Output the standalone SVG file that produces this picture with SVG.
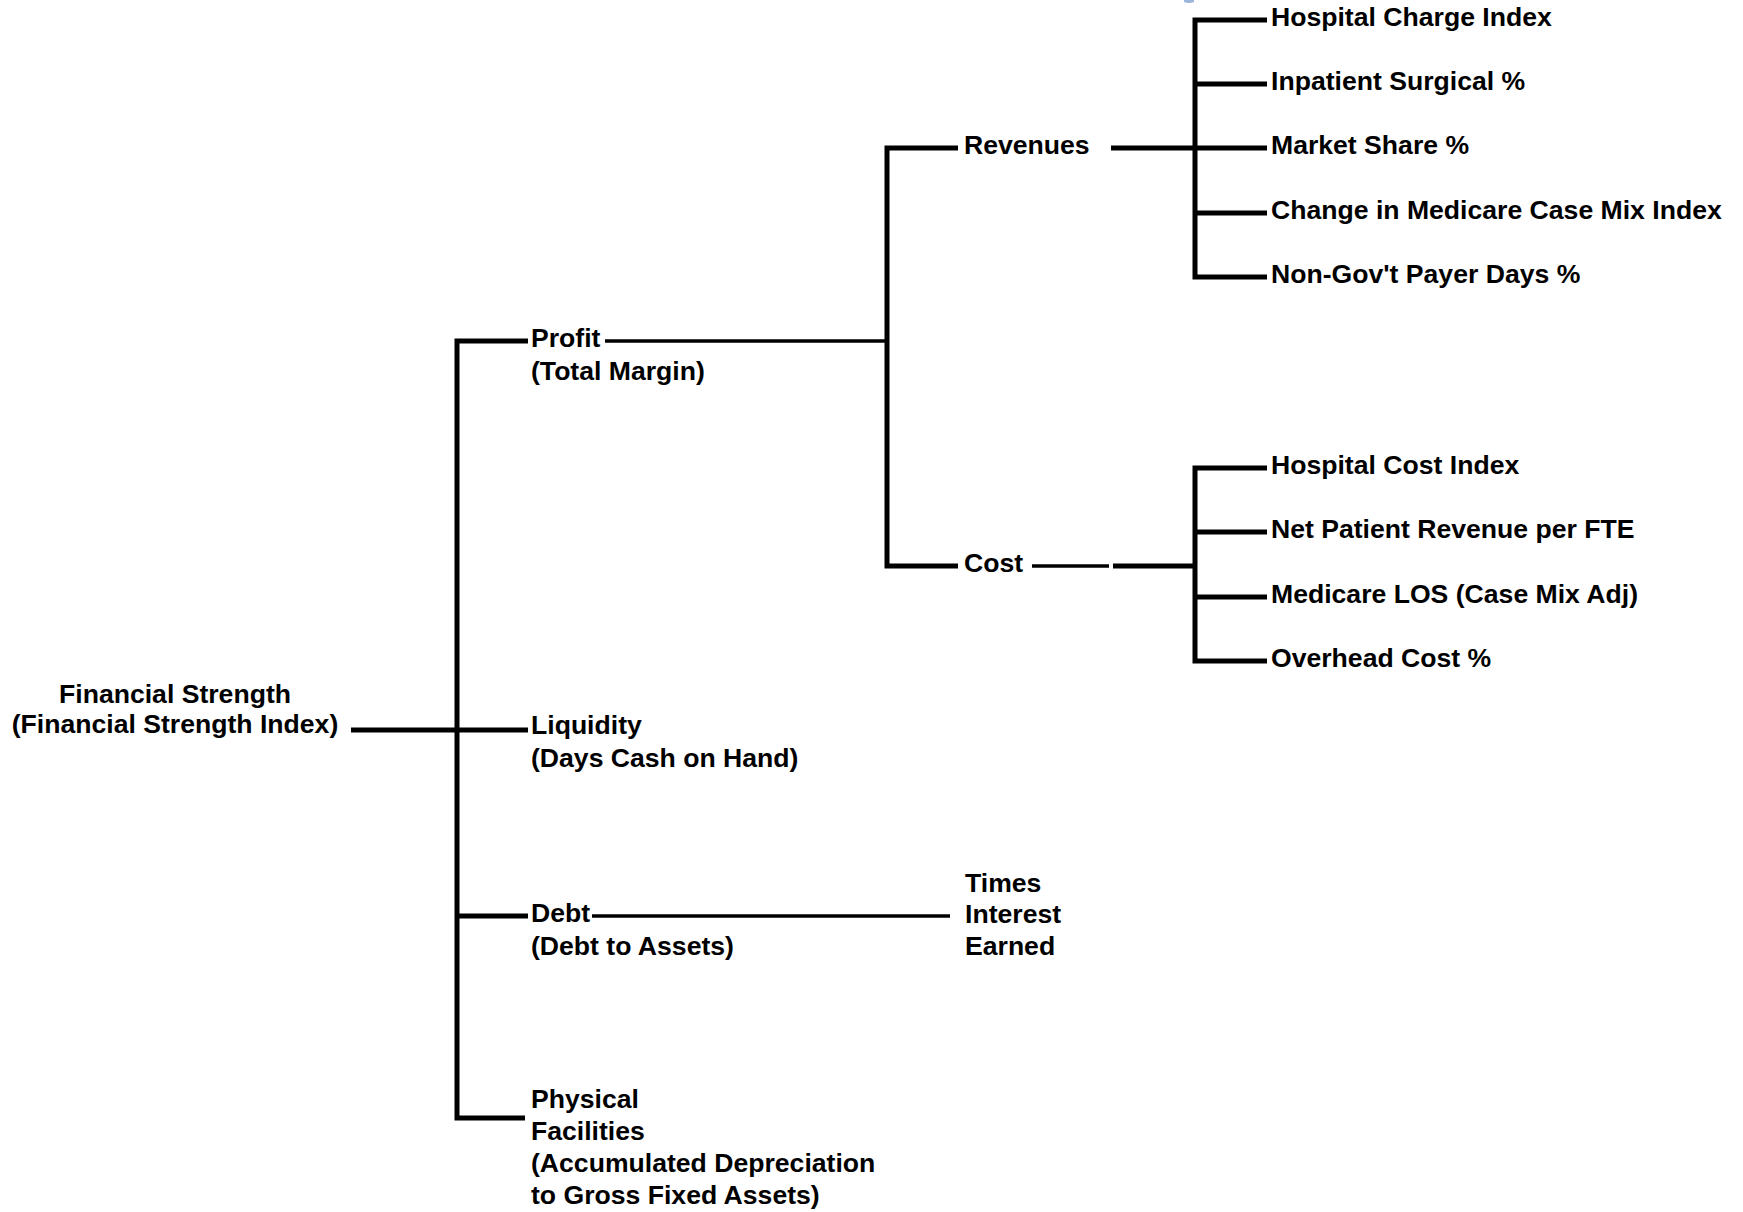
<svg xmlns="http://www.w3.org/2000/svg" width="1743" height="1212" viewBox="0 0 1743 1212">
<style>
text{font-family:"Liberation Sans",Arial,sans-serif;font-weight:bold;font-size:26.6px;fill:#000}
.c{text-anchor:middle}
.k{stroke:#000;stroke-width:5;fill:none;stroke-linecap:butt;stroke-linejoin:miter}
.t{stroke:#000;stroke-width:3.5;fill:none}
</style>
<rect width="1743" height="1212" fill="#fff"/>
<path d="M1184 0 h10 v2 q-5 2 -10 0z" fill="#9bb6da"/>
<g id="connectors">
<path class="k" d="M351 730 H528"/>
<path class="k" d="M528 341 H457 V1118 H525"/>
<path class="k" d="M457 916 H528"/>
<path class="t" d="M605 341 H887"/>
<path class="k" d="M958 148 H887 V566 H958"/>
<path class="k" d="M1111 148 H1195"/>
<path class="k" d="M1267 20 H1195 V277 H1267"/>
<path class="k" d="M1195 84 H1267 M1195 148 H1267 M1195 213 H1267"/>
<path class="t" d="M1032 566 H1109"/>
<path class="k" d="M1113 566 H1195"/>
<path class="k" d="M1267 468 H1195 V661 H1267"/>
<path class="k" d="M1195 532 H1267 M1195 597 H1267"/>
<path class="t" d="M592 916 H950"/>
</g>
<g id="root"><text class="c" x="175" y="703">Financial Strength</text><text class="c" x="175" y="733">(Financial Strength Index)</text></g>
<g id="profit"><text x="531" y="347">Profit</text><text x="531" y="380">(Total Margin)</text></g>
<g id="liquidity"><text x="531" y="734">Liquidity</text><text x="531" y="767">(Days Cash on Hand)</text></g>
<g id="debt"><text x="531" y="922">Debt</text><text x="531" y="955">(Debt to Assets)</text></g>
<g id="physical"><text x="531" y="1108">Physical</text><text x="531" y="1140">Facilities</text><text x="531" y="1172">(Accumulated Depreciation</text><text x="531" y="1204">to Gross Fixed Assets)</text></g>
<g id="revenues"><text x="964" y="154">Revenues</text></g>
<g id="cost"><text x="964" y="572">Cost</text></g>
<g id="times"><text x="965" y="892">Times</text><text x="965" y="923">Interest</text><text x="965" y="955">Earned</text></g>
<g id="r1"><text x="1271" y="26">Hospital Charge Index</text></g>
<g id="r2"><text x="1271" y="90">Inpatient Surgical %</text></g>
<g id="r3"><text x="1271" y="154">Market Share %</text></g>
<g id="r4"><text x="1271" y="219">Change in Medicare Case Mix Index</text></g>
<g id="r5"><text x="1271" y="283">Non-Gov't Payer Days %</text></g>
<g id="c1"><text x="1271" y="474">Hospital Cost Index</text></g>
<g id="c2"><text x="1271" y="538">Net Patient Revenue per FTE</text></g>
<g id="c3"><text x="1271" y="603">Medicare LOS (Case Mix Adj)</text></g>
<g id="c4"><text x="1271" y="667">Overhead Cost %</text></g>
</svg>
